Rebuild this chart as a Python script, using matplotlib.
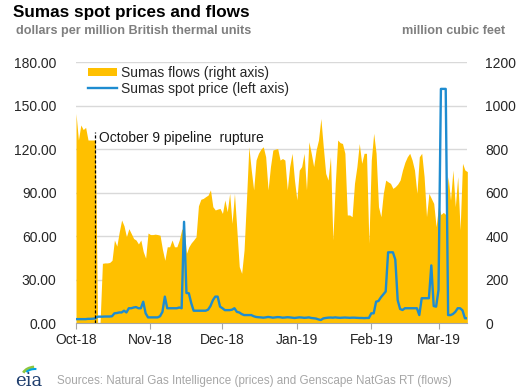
import matplotlib
matplotlib.use("Agg")
import matplotlib.pyplot as plt
import matplotlib.dates as mdates
from matplotlib.patches import Arc, Patch
from matplotlib.lines import Line2D
import pandas as pd

plt.rcParams['font.family'] = ['Liberation Sans', 'DejaVu Sans']

start_date = "2018-10-01"
rupture_date = "2018-10-09"

flows = [964, 842, 911, 890, 900, 842, 842, 842, 842, 0,
         0, 276, 278, 278, 280, 290, 383, 355, 420, 475,
         448, 398, 435, 413, 390, 383, 365, 383, 330, 300,
         415, 408, 408, 410, 408, 405, 340, 290, 352, 352,
         383, 352, 352, 383, 430, 444, 322, 352, 370, 383,
         398, 540, 570, 574, 582, 589, 613, 536, 521, 525,
         528, 505, 567, 513, 597, 459, 597, 430, 261, 230,
         337, 567, 811, 704, 613, 750, 781, 800, 811, 765,
         613, 720, 796, 800, 803, 750, 757, 750, 613, 720,
         781, 658, 567, 704, 720, 781, 613, 834, 780, 720,
         796, 842, 941, 811, 689, 658, 765, 383, 643, 842,
         830, 826, 781, 498, 498, 490, 643, 720, 826, 735,
         781, 781, 368, 750, 873, 781, 536, 490, 597, 658,
         650, 643, 620, 628, 640, 658, 704, 740, 765, 781,
         750, 704, 597, 765, 781, 674, 490, 597, 574, 551,
         444, 536, 500, 510, 500, 674, 566, 704, 536, 674,
         429, 735, 704, 697]

price = [3.0, 3.0, 3.0, 3.0, 3.0, 3.2, 3.2, 3.3, 3.5, 4.7,
         4.7, 4.7, 4.8, 4.8, 4.8, 5.0, 7.0, 7.2, 7.6, 7.6,
         8.8, 7.6, 10.5, 10.5, 11.0, 11.3, 10.5, 10.5, 15.0, 7.0,
         4.2, 4.2, 4.2, 4.2, 4.2, 5.0, 8.0, 18.5, 10.5, 10.5,
         10.5, 10.5, 10.5, 11.0, 10.5, 70.0, 21.0, 20.8, 14.0, 8.8,
         8.8, 8.8, 8.8, 8.8, 8.8, 9.5, 12.0, 16.0, 18.5, 18.5,
         11.6, 10.5, 9.2, 9.2, 9.2, 9.5, 10.5, 8.0, 7.6, 6.5,
         5.8, 5.8, 5.8, 5.8, 5.0, 4.5, 4.3, 4.2, 4.0, 4.2,
         4.5, 4.3, 4.0, 4.2, 4.4, 4.3, 4.0, 4.1, 4.3, 4.2,
         4.0, 3.8, 4.0, 4.2, 4.1, 3.9, 4.0, 4.2, 3.8, 3.6,
         3.4, 2.8, 2.4, 3.5, 3.8, 4.0, 4.1, 4.0, 4.2, 4.0,
         3.9, 4.0, 4.1, 4.0, 3.9, 4.0, 4.0, 3.9, 3.8, 3.8,
         3.7, 3.8, 3.8, 7.0, 7.0, 15.0, 15.5, 18.0, 20.0, 22.0,
         49.0, 49.0, 49.0, 44.0, 16.0, 10.0, 9.3, 10.5, 10.5, 10.5,
         10.5, 10.5, 10.5, 5.8, 17.4, 17.4, 17.4, 17.4, 40.0, 12.0,
         11.6, 23.0, 161.5, 161.5, 161.5, 5.8, 5.8, 6.5, 8.0, 10.5,
         10.5, 9.0, 3.6, 3.6]

price_ticks = [0, 30, 60, 90, 120, 150, 180]
flow_ticks = [0, 200, 400, 600, 800, 1000, 1200]
month_ticks = ["2018-10-01", "2018-11-01", "2018-12-01", "2019-01-01", "2019-02-01", "2019-03-01"]

dates = pd.date_range(start_date, periods=len(flows), freq="D")

FLOW_COLOR = "#FFC000"
PRICE_COLOR = "#1E8CD0"
GRID = "#D9D9D9"
GRAY = "#7F7F7F"

fig = plt.figure(figsize=(5.29, 3.89), dpi=100)
ax = fig.add_axes([0.1437, 0.1684, 0.7397, 0.6722])
ax2 = ax.twinx()

# flows (right axis) behind
ax2.fill_between(dates, flows, 0, color=FLOW_COLOR, linewidth=0, zorder=2)
ax2.set_ylim(0, 1200)
ax2.set_yticks(flow_ticks)
ax2.set_yticklabels([str(t) for t in flow_ticks])
ax2.yaxis.grid(True, color=GRID, linewidth=1.0, zorder=0)
ax2.set_axisbelow(True)

# price (left axis) in front
ax.set_zorder(ax2.get_zorder() + 1)
ax.patch.set_visible(False)
ax.plot(dates, price, color=PRICE_COLOR, linewidth=1.7, zorder=3)
ax.set_ylim(0, 180)
ax.set_yticks(price_ticks)
ax.set_yticklabels([f"{t:.2f}" for t in price_ticks])

rd = pd.Timestamp(rupture_date)
ax.vlines(rd, 0, 132, colors="black", linestyles=(0, (2.5, 1.5)), linewidth=0.9, zorder=4)
ax.annotate("October 9 pipeline  rupture", xy=(rd, 128), xytext=(3, 0),
            textcoords="offset points", va="center", ha="left", fontsize=10, color="#1a1a1a")

ax.set_xlim(dates[0], dates[-1])
ax.set_xticks(pd.to_datetime(month_ticks))
ax.xaxis.set_major_formatter(mdates.DateFormatter("%b-%y"))

for a in (ax, ax2):
    for s in ("top", "left", "right"):
        a.spines[s].set_visible(False)
    a.spines["bottom"].set_color("#A6A6A6")
    a.tick_params(axis="y", length=0, labelsize=10, colors="#262626")
ax.tick_params(axis="y", pad=14)
ax2.tick_params(axis="y", pad=13)
ax.tick_params(axis="x", length=4, color="#A6A6A6", labelsize=10, labelcolor="#262626", pad=3)
ax2.spines["bottom"].set_visible(False)

handles = [Patch(facecolor=FLOW_COLOR, edgecolor="none"),
           Line2D([0], [0], color=PRICE_COLOR, linewidth=1.7)]
leg = ax.legend(handles, ["Sumas flows (right axis)", "Sumas spot price (left axis)"],
                loc="upper left", bbox_to_anchor=(0.03, 0.985), frameon=False,
                borderaxespad=0, borderpad=0, handlelength=2.1, handleheight=0.6,
                handletextpad=0.3, labelspacing=0.15, fontsize=10)
for t in leg.get_texts():
    t.set_color("#262626")

fig.text(13 / 529, 1 - 13 / 389, "Sumas spot prices and flows", fontsize=12.3,
         fontweight="bold", va="center", ha="left", color="black")
fig.text(16 / 529, 1 - 31 / 389, "dollars per million British thermal units", fontsize=9.1,
         fontweight="bold", va="center", ha="left", color=GRAY)
fig.text(505 / 529, 1 - 31 / 389, "million cubic feet", fontsize=9.1,
         fontweight="bold", va="center", ha="right", color=GRAY)
fig.text(57 / 529, 1 - 381 / 389, "Sources: Natural Gas Intelligence (prices) and Genscape NatGas RT (flows)",
         fontsize=8.4, va="center", ha="left", color="#A6A6A6")

# eia logo
fig.text(29 / 529, 1 - 381 / 389, "eia", fontsize=13, family="DejaVu Serif",
         va="center", ha="center", color="#1F3E6E")
lax = fig.add_axes([15 / 529, 1 - 377 / 389, 30 / 529, 13 / 389])
lax.set_xlim(0, 30)
lax.set_ylim(0, 13)
lax.axis("off")
lax.add_patch(Arc((20, 0), 26, 20, theta1=95, theta2=160, color="#8DC63F", linewidth=2))
lax.add_patch(Arc((20, 0), 22, 16, theta1=80, theta2=150, color="#00A3E0", linewidth=1.5))

fig.savefig("out.png", dpi=100)
